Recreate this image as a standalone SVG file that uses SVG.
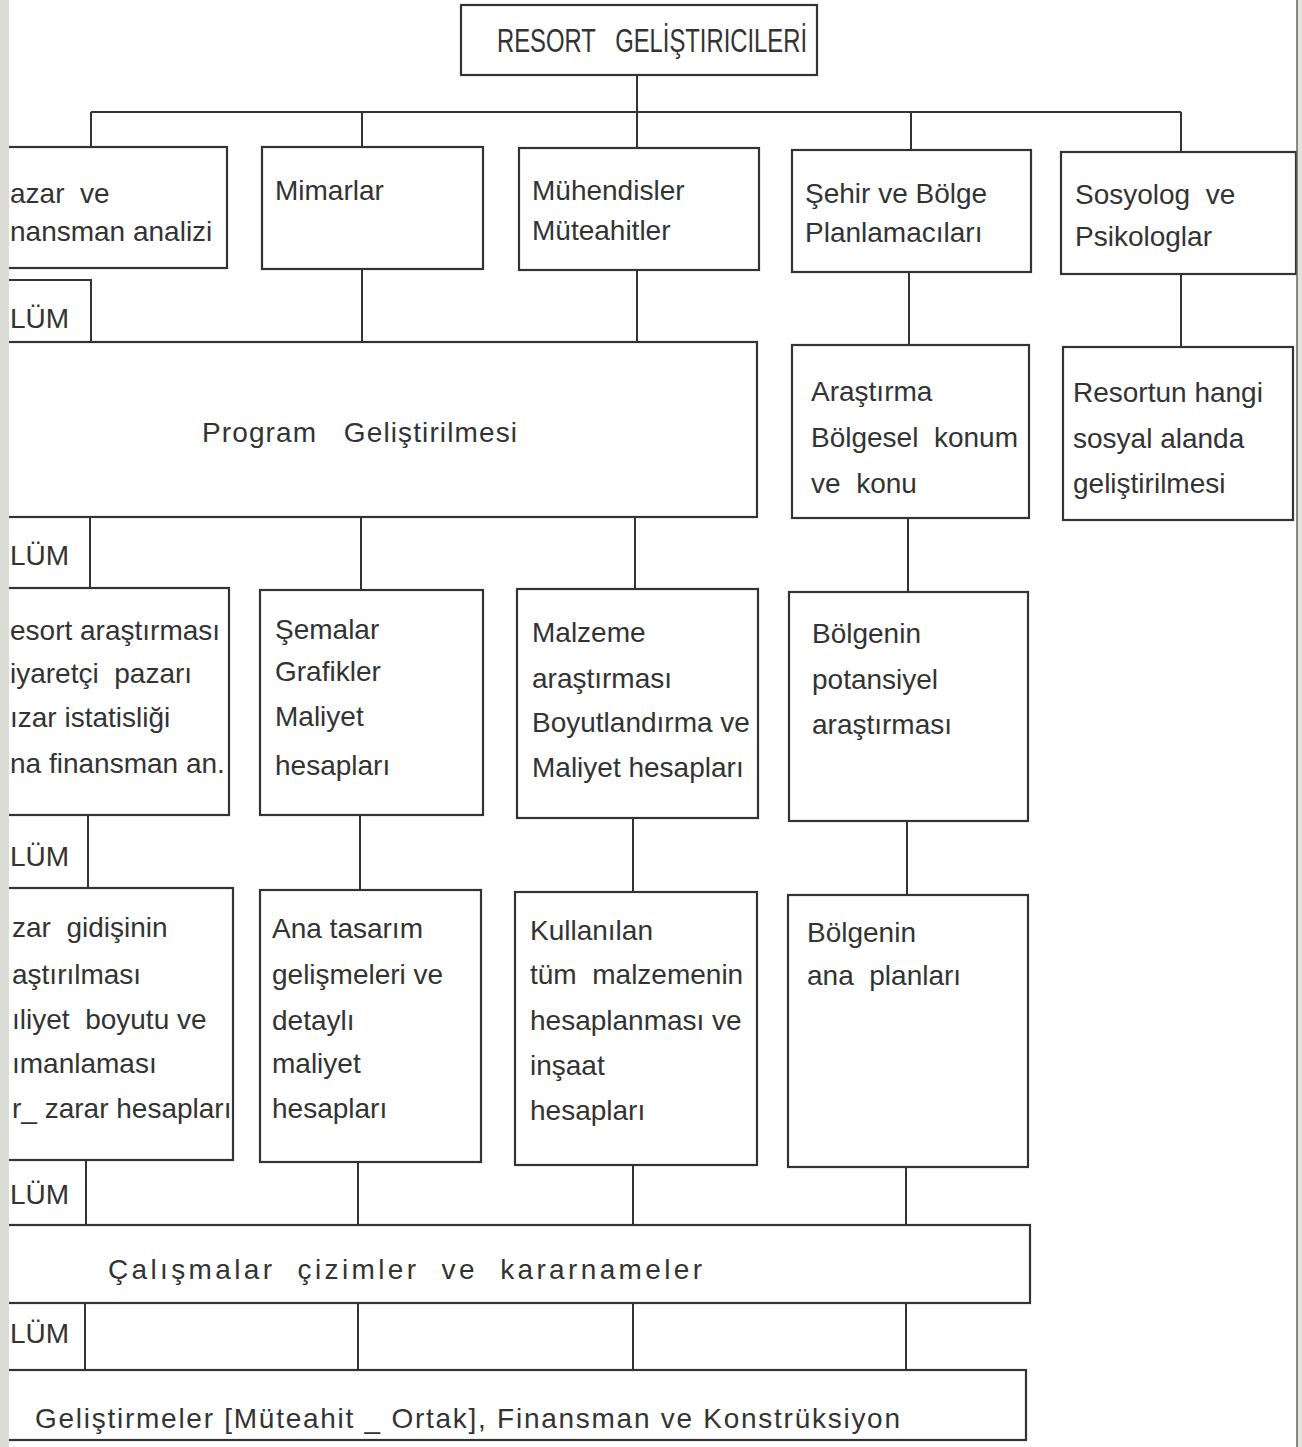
<svg xmlns="http://www.w3.org/2000/svg" width="1302" height="1447" viewBox="0 0 1302 1447">
<style>
  .box { fill: #ffffff; stroke: #333333; stroke-width: 2.2; }
  .ln { fill: none; stroke: #333333; stroke-width: 2; }
  text { font-family: "Liberation Sans", "DejaVu Sans", sans-serif; font-size: 28px; fill: #333333; white-space: pre; }
  .title { font-size: 33px; }
</style>
<rect x="0" y="0" width="1302" height="1447" fill="#ffffff"/>

<g id="connectors" class="ln">
  <path d="M637,75 V112 M91,112 H1181 M91,112 V147 M362,112 V147 M637,112 V148 M911,112 V150 M1181,112 V152"/>
  <path d="M362,269 V342 M637,270 V342 M909,272 V345 M1181,274 V347"/>
  <path d="M361,517 V590 M635,517 V589 M908,518 V592"/>
  <path d="M360,815 V890 M633,818 V892 M907,821 V895"/>
  <path d="M358,1162 V1225 M633,1165 V1225 M906,1167 V1225"/>
  <path d="M358,1303 V1370 M633,1303 V1370 M906,1303 V1370"/>
</g>

<g id="left-column" class="ln">
  <path d="M-20,280 H91 V342"/>
  <path d="M90,517 V588"/>
  <path d="M88,815 V888"/>
  <path d="M86,1160 V1225"/>
  <path d="M85,1303 V1370"/>
</g>
<g id="left-labels">
  <text x="10" y="328">LÜM</text>
  <text x="10" y="565">LÜM</text>
  <text x="10" y="866">LÜM</text>
  <text x="10" y="1204">LÜM</text>
  <text x="10" y="1343">LÜM</text>
</g>

<g id="n-resort">
  <rect class="box" x="461" y="5" width="356" height="70"/>
  <text class="title" xml:space="preserve" x="497" y="52" textLength="310" lengthAdjust="spacingAndGlyphs">RESORT   GELİŞTIRICILERİ</text>
</g>

<g id="n-pazar">
  <rect class="box" x="-20" y="147" width="247" height="121"/>
  <text xml:space="preserve" x="10" y="203">azar  ve</text>
  <text x="10" y="241">nansman analizi</text>
</g>
<g id="n-mimarlar">
  <rect class="box" x="262" y="147" width="221" height="122"/>
  <text x="275" y="200">Mimarlar</text>
</g>
<g id="n-muhendisler">
  <rect class="box" x="519" y="148" width="240" height="122"/>
  <text x="532" y="200">Mühendisler</text>
  <text x="532" y="240">Müteahitler</text>
</g>
<g id="n-sehir">
  <rect class="box" x="792" y="150" width="239" height="122"/>
  <text x="805" y="203">Şehir ve Bölge</text>
  <text x="805" y="242">Planlamacıları</text>
</g>
<g id="n-sosyolog">
  <rect class="box" x="1061" y="152" width="235" height="122"/>
  <text xml:space="preserve" x="1075" y="204">Sosyolog  ve</text>
  <text x="1075" y="246">Psikologlar</text>
</g>

<g id="n-program">
  <rect class="box" x="-20" y="342" width="777" height="175"/>
  <text xml:space="preserve" x="202" y="442" textLength="315">Program   Geliştirilmesi</text>
</g>
<g id="n-arastirma">
  <rect class="box" x="792" y="345" width="237" height="173"/>
  <text x="811" y="401">Araştırma</text>
  <text xml:space="preserve" x="811" y="447">Bölgesel  konum</text>
  <text xml:space="preserve" x="811" y="493">ve  konu</text>
</g>
<g id="n-resortun">
  <rect class="box" x="1063" y="347" width="230" height="173"/>
  <text x="1073" y="402">Resortun hangi</text>
  <text x="1073" y="448">sosyal alanda</text>
  <text x="1073" y="493">geliştirilmesi</text>
</g>

<g id="n-resort-arastirmasi">
  <rect class="box" x="-20" y="588" width="249" height="227"/>
  <text x="10" y="640">esort araştırması</text>
  <text xml:space="preserve" x="10" y="683">iyaretçi  pazarı</text>
  <text x="10" y="727">ızar istatisliği</text>
  <text x="10" y="773">na finansman an.</text>
</g>
<g id="n-semalar">
  <rect class="box" x="260" y="590" width="223" height="225"/>
  <text x="275" y="639">Şemalar</text>
  <text x="275" y="681">Grafikler</text>
  <text x="275" y="726">Maliyet</text>
  <text x="275" y="775">hesapları</text>
</g>
<g id="n-malzeme">
  <rect class="box" x="517" y="589" width="241" height="229"/>
  <text x="532" y="642">Malzeme</text>
  <text x="532" y="688">araştırması</text>
  <text x="532" y="732">Boyutlandırma ve</text>
  <text x="532" y="777">Maliyet hesapları</text>
</g>
<g id="n-bolgenin-potansiyel">
  <rect class="box" x="789" y="592" width="239" height="229"/>
  <text x="812" y="643">Bölgenin</text>
  <text x="812" y="689">potansiyel</text>
  <text x="812" y="734">araştırması</text>
</g>

<g id="n-pazar-gidisi">
  <rect class="box" x="-20" y="888" width="253" height="272"/>
  <text xml:space="preserve" x="12" y="937">zar  gidişinin</text>
  <text x="12" y="984">aştırılması</text>
  <text xml:space="preserve" x="12" y="1029">ıliyet  boyutu ve</text>
  <text x="12" y="1073">ımanlaması</text>
  <text x="12" y="1118">r_ zarar hesapları</text>
</g>
<g id="n-ana-tasarim">
  <rect class="box" x="260" y="890" width="221" height="272"/>
  <text x="272" y="938">Ana tasarım</text>
  <text x="272" y="984">gelişmeleri ve</text>
  <text x="272" y="1030">detaylı</text>
  <text x="272" y="1073">maliyet</text>
  <text x="272" y="1118">hesapları</text>
</g>
<g id="n-kullanilan">
  <rect class="box" x="515" y="892" width="242" height="273"/>
  <text x="530" y="940">Kullanılan</text>
  <text xml:space="preserve" x="530" y="984">tüm  malzemenin</text>
  <text x="530" y="1030">hesaplanması ve</text>
  <text x="530" y="1075">inşaat</text>
  <text x="530" y="1120">hesapları</text>
</g>
<g id="n-bolgenin-ana">
  <rect class="box" x="788" y="895" width="240" height="272"/>
  <text x="807" y="942">Bölgenin</text>
  <text xml:space="preserve" x="807" y="985">ana  planları</text>
</g>

<g id="n-calismalar">
  <rect class="box" x="-20" y="1225" width="1050" height="78"/>
  <text xml:space="preserve" x="108" y="1279" textLength="594">Çalışmalar  çizimler  ve  kararnameler</text>
</g>
<g id="n-gelistirmeler">
  <rect class="box" x="-20" y="1370" width="1046" height="70"/>
  <text x="35" y="1428" textLength="865">Geliştirmeler [Müteahit _ Ortak], Finansman ve Konstrüksiyon</text>
</g>

<g id="page-edges">
  <rect x="0" y="0" width="9" height="1447" fill="#dcdcd6"/>
  <rect x="1297" y="0" width="5" height="1447" fill="#e4e4de"/>
  <line x1="1297" y1="0" x2="1297" y2="1447" stroke="#666" stroke-width="1.5"/>
</g>
</svg>
